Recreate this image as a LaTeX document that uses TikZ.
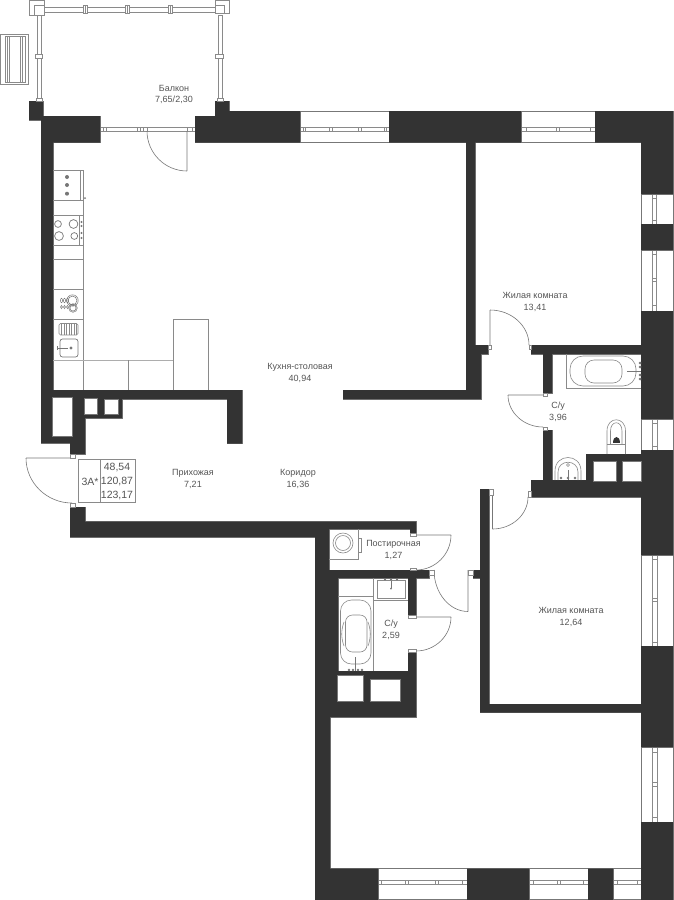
\documentclass[tikz,border=0pt]{standalone}
\usepackage{fontspec}
\setmainfont{Liberation Sans}
\usetikzlibrary{calc}
\definecolor{wallc}{HTML}{333333}
\definecolor{edgec}{HTML}{777777}
\definecolor{linec}{HTML}{8A8A8A}
\definecolor{textc}{HTML}{555555}
\newcommand\wallpath{
 (41,116) rectangle (100,142.5) (41,116) rectangle (53,443)
 (29,101) rectangle (43,120)
 (195,116) rectangle (300,142.5) (229,111) rectangle (300,142.5) (215,101) rectangle (229,116)
 (389,111) rectangle (521,142.5) (595,111) rectangle (673,142.5)
 (466,142) rectangle (475,354) (466,345) rectangle (488,354) (466,354) rectangle (481,399) (343,390) rectangle (481,399)
 (641,142) rectangle (673,194) (641,224) rectangle (673,250) (641,311) rectangle (673,419) (641,450) rectangle (673,555) (641,646) rectangle (673,747) (641,822) rectangle (673,900)
 (531,345) rectangle (641,354) (543,354) rectangle (552,393) (543,430) rectangle (552,497) (531,480) rectangle (641,497) (586,454) rectangle (641,481)
 (480,489) rectangle (489,712.5) (480,704) rectangle (641,712.5) (473,570) rectangle (489,578)
 (41,390) rectangle (242,399) (227,399) rectangle (242,443.5) (41,390) rectangle (72,443) (70,399) rectangle (85,454) (85,399) rectangle (122,418)
 (70,507) rectangle (85,537) (70,521.7) rectangle (329,537) (315,521.7) rectangle (416,529) (410,529) rectangle (416,533)
 (315,529) rectangle (329,717) (315,578) rectangle (338,717) (329,570) rectangle (429,578) (408,578) rectangle (416,615) (408,652) rectangle (416,717) (338,671) rectangle (416,717)
 (315,700) rectangle (330,900) (315,868.5) rectangle (378,900) (467,868.5) rectangle (529,900) (588,868.5) rectangle (613,900)
}
\tikzset{
 room/.style={font=\fontsize{9}{11.5}\selectfont,text=textc,align=center,inner sep=0pt},
 fix/.style={draw=linec,line width=.6pt},
 fixd/.style={draw=edgec,line width=.7pt},
 win/.style={draw=edgec,line width=.7pt,fill=white},
 shaft/.style={draw=edgec,line width=.5pt,fill=white},
 door/.style={draw=edgec,line width=.6pt},
 infot/.style={font=\fontsize{10.5}{12}\selectfont,text=textc,inner sep=0pt}
}
\newcommand\hwin[5]{\draw[win] (#1,#3) rectangle (#2,#4);
 \draw[fix] (#1,127.3+#5) -- (#2,127.3+#5) (#1,131.5+#5) -- (#2,131.5+#5);}
\newcommand\vwin[5]{\draw[win] (641,#1) rectangle (673,#2);
 \draw[fix] (#3,#1) -- (#3,#2) (#4,#1) -- (#4,#2);
 \foreach \q in {#5} {\draw[fix] (#3,\q) -- (#4,\q);}}
\newcommand\qarc[3]{(#1) .. controls ($(#1)!.55!(#2)$) and ($(#3)!.55!(#2)$) .. (#3)}
\begin{document}
\begin{tikzpicture}[x=1pt,y=-1pt]
\useasboundingbox (0,0) rectangle (673,900);
\fill[white] (0,0) rectangle (673,900);
% windows
\hwin{300}{389}{111.7}{142.5}{0}
\foreach \q in {303,305,329,332,358,361,384,386}{\draw[fix] (\q,127.3)--(\q,131.5);}
\hwin{521}{595}{111.7}{142.5}{0}
\foreach \q in {526,556,559,590}{\draw[fix] (\q,127.3)--(\q,131.5);}
\hwin{377}{467}{868.5}{899.5}{752.7}
\foreach \q in {381,405,408,435,438,462}{\draw[fix] (\q,880)--(\q,884.2);}
\hwin{529}{588}{868.5}{899.5}{752.7}
\foreach \q in {533,557,560,583}{\draw[fix] (\q,880)--(\q,884.2);}
\hwin{613}{641}{868.5}{899.5}{752.7}
\foreach \q in {617,637}{\draw[fix] (\q,880)--(\q,884.2);}
\vwin{194}{224}{652}{656.5}{198,220}
\vwin{250}{311}{652}{656.5}{254,278,281,305}
\vwin{419}{450}{652.5}{657}{423,446}
\vwin{555}{646}{652.5}{657}{559,598,601,642}
\vwin{747}{822}{652.5}{657.5}{752,782,786,817}
% balcony door / window
\draw[fix] (100,127.3) -- (195,127.3) (100,131.5) -- (195,131.5);
\foreach \q in {103,106,137,140,143,147,187,192}{\draw[fix] (\q,127.3)--(\q,131.5);}
% walls
\path[draw=edgec,line width=.9pt] \wallpath;
\fill[wallc] \wallpath;
% shafts
\draw[shaft] (52.5,397.7) rectangle (72,436.7);
\draw[shaft] (84,398.7) rectangle (97,414);
\draw[shaft] (104.7,399) rectangle (118,414);
\draw[shaft] (593,461.5) rectangle (616,481);
\draw[shaft] (622.7,461.5) rectangle (641,481);
\draw[shaft] (337,675.7) rectangle (363.7,701);
\draw[shaft] (370,679) rectangle (400.7,701);
% balcony rails
\draw[fix] (44,7.5) rectangle (215,12);
\draw[fix] (37.3,15) rectangle (41.3,101) (218,15) rectangle (222,101);
\draw[fix,fill=white] (29.5,.5) rectangle (44.5,15.5) (34.5,5) rectangle (44.5,15.5);
\draw[fix,fill=white] (215,.5) rectangle (229,13.5) (215,5) rectangle (224.5,13.5);
\foreach \q in {85.5,127.5,170}{\draw[fix,fill=white] (\q-2,5.5) rectangle (\q+2,13.5); \draw[fix] (\q,5.5)--(\q,13.5);}
\draw[fix,fill=white] (35,54.5) rectangle (42.5,58.5) (215.5,54.5) rectangle (223,58.5);
\draw[fix,fill=white] (36,98) rectangle (42,101) (217,98) rectangle (223,101);
% side rack
\draw[fix] (.5,34.5) rectangle (28.5,84.5) (5,36.5) rectangle (25.5,82.5);
\draw[fix] (7,36.5) -- (7,82.5) (9,36.5) -- (9,82.5) (20,36.5) -- (20,82.5) (22,36.5) -- (22,82.5);
% kitchen
\draw[fix] (53,170) -- (83,170) -- (83,390);
\draw[fix] (80,170) -- (80,200) (53,200) -- (83,200);
\draw[fix] (53,215.7) -- (83,215.7) (53,245.7) -- (83,245.7) (79,215.7) -- (79,245.7);
\draw[fix] (53,259.5) -- (83,259.5) (53,289.5) -- (83,289.5) (53,319.5) -- (83,319.5);
\draw[fix,line width=1pt,draw=linec!70] (53,360) -- (173.5,360);
\draw[fix] (128.3,360) -- (128.3,390);
\draw[fix] (173.5,390) -- (173.5,319.5) -- (208.5,319.5) -- (208.5,390);
\foreach \q in {177,185,193.7}{\fill[edgec] (67,\q) circle (2);}
\fill[edgec] (85,198) circle (1);
\draw[fixd] (58,224) circle (3.4) (73.5,224) circle (4.4) (59,236) circle (4.4) (74.3,236) circle (3.4);
\foreach \q in {222,226,233,238}{\fill[edgec] (81.5,\q) circle (1.1);}
\draw[fixd,line width=.5pt] (72.5,300.5) circle (5.7) (72.5,300.5) circle (4.4) (73,308) circle (4.3) (73,308) circle (3);
\foreach \q in {61.5,64.5,67.5}{\draw[fixd,line width=.5pt] (\q,300.5) ellipse (1 and 2.2);}
\foreach \q in {61.5,64.5,67.5}{\draw[fixd,line width=.5pt] (\q,307) ellipse (1 and 1.6);}
\draw[fix,rounded corners=1.5pt] (59,323.5) rectangle (78,335);
\foreach \q in {61.5,64,66.5,69,71.5,74,76}{\draw[fix] (\q,323.5)--(\q,335);}
\draw[fixd,rounded corners=2.5pt] (60,339) rectangle (78,357);
\draw[fixd,line width=.8pt] (57,348) -- (68,348) (57,346) -- (57,350);
\fill[edgec] (71,348) circle (1.6);
% big bath
\draw[fix] (566.7,354) -- (566.7,388.5) -- (641,388.5);
\draw[fix,rounded corners=13pt] (570,356) rectangle (636,386);
\draw[fix,rounded corners=9pt] (585,360) rectangle (622,383);
\draw[fixd,line width=1pt] (627,371) -- (641,371);
\foreach \q in {363,367,375,379}{\fill[edgec] (640,\q) circle (1.5);}
% toilet
\draw[fix] (607,454) -- (607,431) .. controls (607,416) and (625.5,416) .. (625.5,431) -- (625.5,454);
\draw[fix] (607,444.5) -- (625.5,444.5);
\draw[fix] (610.5,444.5) -- (610.5,431) .. controls (610.5,420) and (622,420) .. (622,431) -- (622,444.5);
\fill[wallc] (613,442.5) .. controls (613,434.5) and (619.5,434.5) .. (619.5,442.5) -- cycle;
% sink
\draw[fix] (555,480) -- (555,471) .. controls (555,453) and (581,453) .. (581,471) -- (581,480);
\draw[fix] (558,480) -- (558,472) .. controls (558,459) and (578,459) .. (578,472) -- (578,480);
\draw[fix] (568,465) circle (1.5);
\draw[fixd,line width=1pt] (568,470) -- (568,480);
\foreach \q in {561,568,575}{\fill[edgec] (\q,478) circle (1.4);}
% small bath
\draw[fix] (338,596) -- (373.5,596) (373.5,578) -- (373.5,671);
\draw[fix] (373.5,600) -- (408,600);
\draw[fix,rounded corners=11pt] (340.5,600) rectangle (371,664);
\draw[fix,rounded corners=7pt] (345.5,615) rectangle (367,652);
\draw[fix] (344,622) .. controls (341,630) and (341,638) .. (344,646) (368,622) .. controls (371,630) and (371,638) .. (368,646);
\draw[fixd,line width=1pt] (355.5,657) -- (355.5,671);
\foreach \q in {349,353,358,362}{\fill[edgec] (\q,670) circle (1.4);}
\draw[fix] (377,580) rectangle (405,598);
\draw[fixd,line width=1pt] (391,581) -- (391,588);
\foreach \q in {385,391,397}{\fill[edgec] (\q,579.5) circle (1.2);}
\fill[edgec] (391,588.5) circle (1);
% washing machine
\draw[fix] (358,529) -- (358,559) -- (329,559);
\draw[fix] (358,538) -- (361,538) -- (361,552) -- (358,552);
\draw[fix] (343,543) circle (10) (343,543) circle (7.5);
% doors
\draw[door] (187,131) -- (187,171) \qarc{147,131}{147,171}{187,171};
\draw[door] (490,345) -- (490,310) \qarc{490,310}{529,310}{529,345};
\draw[door] (543,395) -- (508,395) \qarc{508,395}{508,427}{543,427};
\draw[door] (492.5,490) -- (492.5,529) \qarc{492.5,529}{528,529}{528,497};
\draw[door] (416,535) -- (451,535) \qarc{451,535}{451,570}{416,570};
\draw[door] (416,617) -- (451,617) \qarc{451,617}{451,651}{416,651};
\draw[door] (468,570) -- (468,611.5) \qarc{468,611.5}{434,611.5}{434,570};
\draw[door] (72,458) -- (26,458) \qarc{26,458}{26,503}{72,503};
% jambs
\foreach \a/\b/\c/\d in {488/345/491/349, 529.5/345/531.5/349, 543/393/547/396, 543/427/547/430, 489/489/493/495, 528/491/531/497, 410/533/416/536, 410/568/416/570, 408/615/416/618, 408/649/416/652, 429/570/434/575, 468/570/473/575, 70/454/75/458, 70/503/75/507}
 {\draw[fix,fill=white,line width=.4pt] (\a,\b) rectangle (\c,\d);}
% info box
\node[draw=linec,line width=.6pt,fill=white,minimum width=56.3pt,minimum height=43.7pt,inner sep=0pt] (info) at (106.85,480.85) {};
\draw[fix] (100,459) -- (100,502.7);
\node[infot] (kind) at (90,481.5) {3А*};
\node[infot] (a1) at (117,467.5) {48,54};
\node[infot] (a2) at (117,481.5) {120,87};
\node[infot] (a3) at (117,495.5) {123,17};
% labels
\node[room] (balc) at (174,94.5) {Балкон\\7,65/2,30};
\node[room] (kitch) at (300,373) {Кухня-столовая\\40,94};
\node[room] (r1) at (535,302) {Жилая комната\\13,41};
\node[room] (r2) at (571,617) {Жилая комната\\12,64};
\node[room] (pr) at (193,479) {Прихожая\\7,21};
\node[room] (kor) at (298,479) {Коридор\\16,36};
\node[room] (su1) at (558,412) {С/у\\3,96};
\node[room] (su2) at (391,630) {С/у\\2,59};
\node[room] (post) at (393.5,550) {Постирочная\\1,27};
\end{tikzpicture}
\end{document}
